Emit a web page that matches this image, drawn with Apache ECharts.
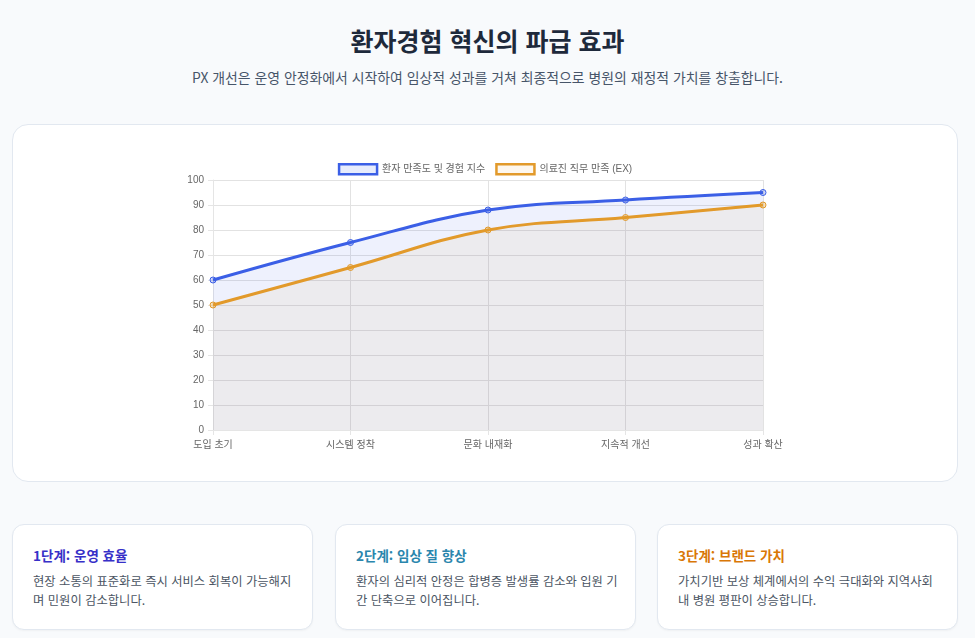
<!DOCTYPE html>
<html lang="ko">
<head>
<meta charset="utf-8">
<script src="https://cdn.jsdelivr.net/npm/echarts@6/dist/echarts.min.js"></script>
<style>
  html, body { margin: 0; padding: 0; }
  body {
    width: 975px; height: 638px; overflow: hidden; position: relative;
    background: #f8fafc; font-family: "Noto Sans CJK KR", "Noto Sans", sans-serif;
  }
  h1 {
    position: absolute; left: 0; right: 0; top: 21px; margin: 0;
    text-align: center; font-size: 25px; font-weight: 700; color: #1e293b; line-height: 38px;
  }
  .sub {
    position: absolute; left: 0; right: 0; top: 67px; margin: 0;
    text-align: center; font-size: 13.9px; color: #475569; line-height: 20px;
  }
  .panel {
    position: absolute; left: 12px; top: 124px; width: 944px; height: 356px;
    background: #fff; border: 1px solid #e2e8f0; border-radius: 16px;
  }
  #chart { position: absolute; left: 0; top: 0; width: 944px; height: 356px; }
  .card {
    position: absolute; top: 524px; width: 299px; height: 104px;
    background: #fff; border: 1px solid #e2e8f0; border-radius: 12px;
    box-shadow: 0 1px 2px rgba(0,0,0,0.04);
  }
  .card h3 { margin: 0; position: absolute; left: 20px; top: 20px; font-size: 13.5px; font-weight: 700; line-height: 20px; }
  .card p { margin: 0; position: absolute; left: 20px; top: 47px; width: 262px; font-size: 12.3px; color: #4b5563; line-height: 19px; word-break: break-all; }
</style>
</head>
<body>
<h1>환자경험 혁신의 파급 효과</h1>
<p class="sub">PX 개선은 운영 안정화에서 시작하여 임상적 성과를 거쳐 최종적으로 병원의 재정적 가치를 창출합니다.</p>

<div class="panel"><div id="chart"></div></div>

<div class="card" style="left:12px"><h3 style="color:#3730c8">1단계: 운영 효율</h3>
  <p>현장 소통의 표준화로 즉시 서비스 회복이 가능해지며 민원이 감소합니다.</p></div>
<div class="card" style="left:335px"><h3 style="color:#2a86ad">2단계: 임상 질 향상</h3>
  <p>환자의 심리적 안정은 합병증 발생률 감소와 입원 기간 단축으로 이어집니다.</p></div>
<div class="card" style="left:657px"><h3 style="color:#d97706">3단계: 브랜드 가치</h3>
  <p>가치기반 보상 체계에서의 수익 극대화와 지역사회 내 병원 평판이 상승합니다.</p></div>

<script>
// 단계별 지수 (0-100)
const stages = ['도입 초기', '시스템 정착', '문화 내재화', '지속적 개선', '성과 확산'];
const patientScore = [60, 75, 88, 92, 95];
const staffScore = [50, 65, 80, 85, 90];
const seriesNames = ['환자 만족도 및 경험 지수', '의료진 직무 만족 (EX)'];

const BLUE = '#3b5fe6';
const ORANGE = '#e29a2b';
const FONT = '"Liberation Sans", "Noto Sans CJK KR", sans-serif';

const chart = echarts.init(document.getElementById('chart'), null, { renderer: 'canvas' });

function lineSeries(name, data, color, fill, pointFill) {
  return {
    name, type: 'line', data,
    smooth: 0.4,
    symbol: 'circle', symbolSize: 6,
    lineStyle: { color, width: 3 },
    itemStyle: { color: pointFill, borderColor: color, borderWidth: 1 },
    areaStyle: { color: fill, origin: 'start' },
  };
}

chart.setOption({
  animation: false,
  textStyle: { fontFamily: FONT },
  legend: {
    top: 33, left: 'center',
    icon: 'rect', itemWidth: 38, itemHeight: 10, itemGap: 10,
    textStyle: { color: '#666', fontSize: 10, fontFamily: FONT },
    data: [
      { name: seriesNames[0], itemStyle: { color: 'rgba(59,95,230,0.12)', borderColor: BLUE, borderWidth: 2.5 } },
      { name: seriesNames[1], itemStyle: { color: 'rgba(226,154,43,0.08)', borderColor: ORANGE, borderWidth: 2.5 } },
    ],
  },
  grid: { left: 200, right: 194, top: 55, bottom: 51, containLabel: false },
  xAxis: {
    type: 'category', data: stages, boundaryGap: false,
    axisLine: { lineStyle: { color: '#e5e5e5' } },
    axisTick: { show: true, length: 5, lineStyle: { color: '#e5e5e5' } },
    axisLabel: { color: '#666', fontSize: 10, margin: 10, fontFamily: FONT },
    splitLine: { show: true, lineStyle: { color: '#e2e2e2' } },
  },
  yAxis: {
    type: 'value', min: 0, max: 100, interval: 10,
    axisLine: { show: true, lineStyle: { color: '#e5e5e5' } },
    axisTick: { show: true, length: 5, lineStyle: { color: '#e5e5e5' } },
    axisLabel: { color: '#666', fontSize: 10, margin: 9, fontFamily: FONT },
    splitLine: { lineStyle: { color: '#e2e2e2' } },
  },
  series: [
    lineSeries(seriesNames[0], patientScore, BLUE, 'rgba(59,95,230,0.12)', 'rgba(59,95,230,0.25)'),
    lineSeries(seriesNames[1], staffScore, ORANGE, 'rgba(212,156,41,0.1)', 'rgba(226,154,43,0.3)'),
  ],
});

window.addEventListener('resize', () => chart.resize());
</script>
</body>
</html>
